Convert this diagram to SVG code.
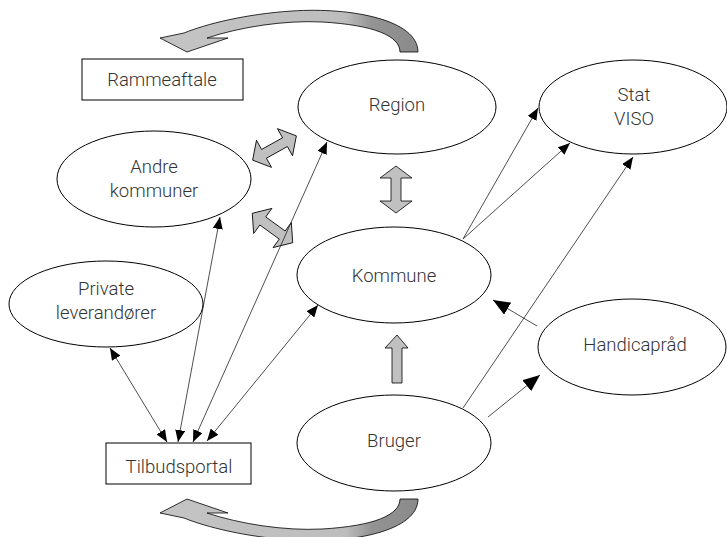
<svg xmlns="http://www.w3.org/2000/svg" width="727" height="537" viewBox="0 0 727 537">
<style>
.node{fill:#fff;stroke:#000;stroke-width:1}
.lbl{font-family:Roboto,"Liberation Sans",sans-serif;font-weight:300;font-size:18.5px;fill:#333;text-anchor:middle}
.ln{stroke:#222;stroke-width:0.8;fill:none}
.blk{fill:#c0c0c0;stroke:#000;stroke-width:0.8}
.curv{stroke:#000;stroke-width:0.8}
</style>
<defs>
<marker id="ah" viewBox="0 0 12 10" refX="12" refY="5" markerWidth="12" markerHeight="10" markerUnits="userSpaceOnUse" orient="auto-start-reverse"><path d="M0,0 L12,5 L0,10 Z" fill="#000"/></marker>
<marker id="ahb" viewBox="0 0 17 14" refX="17" refY="7" markerWidth="17" markerHeight="14" markerUnits="userSpaceOnUse" orient="auto"><path d="M0,0 L17,7 L0,14 Z" fill="#000"/></marker>
<linearGradient id="cg" gradientUnits="userSpaceOnUse" x1="160" y1="0" x2="418" y2="0">
<stop offset="0" stop-color="#c4c4c4"/><stop offset="0.72" stop-color="#bdbdbd"/><stop offset="0.82" stop-color="#939393"/><stop offset="1" stop-color="#8a8a8a"/>
</linearGradient>
<path id="carrow" d="M418,52 C418,20 352,7 292,11 C246,14 206,24 184,33 L160,38 L187,52 L228,38 L207,38 C240,27 285,20 322,22 C374,25 400,36 400,52 Z"/>
<polygon id="dbl" points="-25,0 -12,-15.5 -12,-5 12,-5 12,-15.5 25,0 12,15.5 12,5 -12,5 -12,15.5"/>
</defs>

<g id="connectors">
<use href="#carrow" fill="url(#cg)" class="curv"/>
<use href="#carrow" fill="url(#cg)" class="curv" transform="matrix(1,0,0,-1,0,551)"/>
<use href="#dbl" class="blk" transform="translate(274.5,148) rotate(-29)"/>
<use href="#dbl" class="blk" transform="translate(272.5,228) rotate(36)"/>
<polygon class="blk" points="396,166 412,178 401,178 401,201 412,201 396,213 380,201 391,201 391,178 380,178"/>
<polygon class="blk" points="397,335 408,348 402,348 402,383 392,383 392,348 385,348"/>
<line class="ln" x1="110" y1="348" x2="167" y2="442" marker-start="url(#ah)" marker-end="url(#ah)"/>
<line class="ln" x1="220" y1="217" x2="178" y2="442" marker-start="url(#ah)" marker-end="url(#ah)"/>
<line class="ln" x1="327" y1="142" x2="193" y2="442" marker-start="url(#ah)" marker-end="url(#ah)"/>
<line class="ln" x1="318" y1="305" x2="207" y2="441" marker-start="url(#ah)" marker-end="url(#ah)"/>
<line class="ln" x1="463" y1="239" x2="538" y2="108" marker-end="url(#ah)"/>
<line class="ln" x1="463" y1="239" x2="570" y2="143" marker-end="url(#ah)"/>
<line class="ln" x1="463" y1="408" x2="633" y2="157" marker-end="url(#ah)"/>
<line class="ln" x1="537" y1="326" x2="493" y2="300" marker-end="url(#ahb)"/>
<line class="ln" x1="488" y1="417" x2="540" y2="375" marker-end="url(#ahb)"/>
</g>

<g id="rammeaftale"><rect class="node" x="82" y="59" width="161" height="41"/><text class="lbl" x="162" y="86">Rammeaftale</text></g>
<g id="region"><ellipse class="node" cx="397" cy="107" rx="99" ry="47"/><text class="lbl" x="397" y="111">Region</text></g>
<g id="stat"><ellipse class="node" cx="633" cy="107" rx="94" ry="47"/><text class="lbl" x="634" y="101">Stat</text><text class="lbl" x="634" y="125">VISO</text></g>
<g id="andre"><ellipse class="node" cx="154" cy="179" rx="97" ry="48"/><text class="lbl" x="154" y="173">Andre</text><text class="lbl" x="154" y="197">kommuner</text></g>
<g id="kommune"><ellipse class="node" cx="394" cy="275" rx="97" ry="48"/><text class="lbl" x="394" y="282">Kommune</text></g>
<g id="private"><ellipse class="node" cx="106" cy="304" rx="97" ry="43"/><text class="lbl" x="106" y="295">Private</text><text class="lbl" x="106" y="319">leverandører</text></g>
<g id="handicap"><ellipse class="node" cx="632" cy="347" rx="94" ry="48"/><text class="lbl" x="635" y="351">Handicapråd</text></g>
<g id="bruger"><ellipse class="node" cx="394" cy="443" rx="97" ry="48"/><text class="lbl" x="394" y="447">Bruger</text></g>
<g id="tilbud"><rect class="node" x="106" y="443" width="145" height="41"/><text class="lbl" x="179" y="473">Tilbudsportal</text></g>
</svg>
